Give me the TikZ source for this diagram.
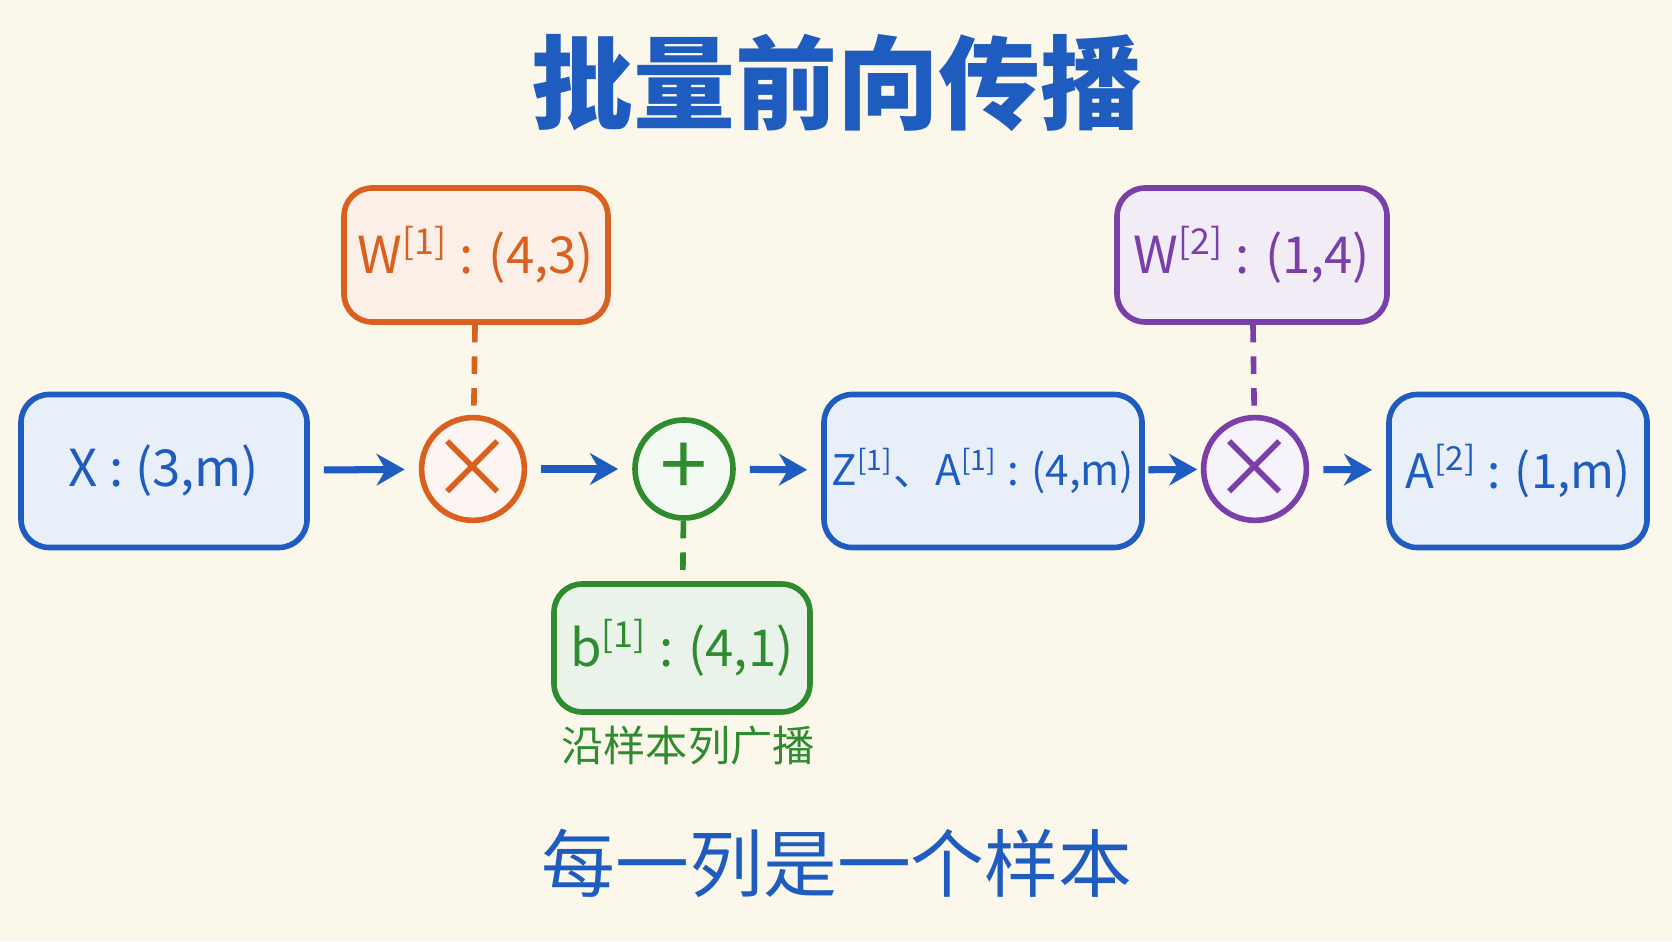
\documentclass[tikz,border=0pt]{standalone}
\usepackage{fontspec}
\setmainfont{Noto Sans CJK SC}
\usetikzlibrary{arrows.meta}
\definecolor{paper}{HTML}{FBF7EA}
\definecolor{myblue}{HTML}{1F5CC0}
\definecolor{myorange}{HTML}{D9601E}
\definecolor{mygreen}{HTML}{2E8B2E}
\definecolor{mypurple}{HTML}{7A3FA8}
\newcommand{\lay}[1]{\textsuperscript{[#1]}}
\tikzset{
  box/.style={draw=#1, line width=1.6pt, rounded corners=8pt, fill=#1!10, text=#1, inner sep=2pt, font=\fontsize{14.5}{18}\selectfont},
  op/.style={draw=#1, line width=1.6pt, circle, inner sep=0pt, minimum size=0.98cm, fill=#1!6, text=#1, font=\fontsize{24}{26}\selectfont},
  flow/.style={-{Stealth[length=8pt,width=9pt]}, draw=myblue, line width=2pt, shorten <=4pt, shorten >=4pt},
  tie/.style={dashed, dash pattern=on 5pt off 4pt, line width=1.6pt, draw=#1}
}
\begin{document}
\begin{tikzpicture}
                \fill[paper] (0,0) rectangle (16.72,9.41);
                \useasboundingbox (0,0) rectangle (16.72,9.41);

                \node[text=myblue, font=\fontsize{29}{36}\selectfont\bfseries] (title) at (8.37,8.58) {批量前向传播};

                \node[box=myblue, minimum width=2.86cm, minimum height=1.53cm] (x) at (1.64,4.70) {X : (3,m)};
                \node[op=myorange] (mul1) at (4.73,4.72) {×};
                \node[box=myorange, minimum width=2.64cm, minimum height=1.34cm] (w1) at (4.76,6.86) {W\lay{1} : (4,3)};
                \node[op=mygreen] (add) at (6.84,4.72) {+};
                \node[box=mygreen, minimum width=2.56cm, minimum height=1.28cm] (b1) at (6.82,2.93) {b\lay{1} : (4,1)};
                \node[text=mygreen, font=\fontsize{12}{14}\selectfont] (bcast) at (6.88,1.95) {沿样本列广播};
                \node[box=myblue, minimum width=3.18cm, minimum height=1.53cm, font=\fontsize{12}{16}\selectfont] (za) at (9.83,4.70) {Z\lay{1}、A\lay{1} : (4,m)};
                \node[op=mypurple] (mul2) at (12.55,4.72) {×};
                \node[box=mypurple, minimum width=2.70cm, minimum height=1.34cm] (w2) at (12.52,6.86) {W\lay{2} : (1,4)};
                \node[box=myblue, minimum width=2.58cm, minimum height=1.53cm, font=\fontsize{13.5}{18}\selectfont] (a2) at (15.18,4.70) {A\lay{2} : (1,m)};

                \node[text=myblue, font=\fontsize{21}{26}\selectfont] (note) at (8.37,0.78) {每一列是一个样本};

                \draw[flow] (x) -- (mul1);
                \draw[flow] (mul1) -- (add);
                \draw[flow] (add) -- (za);
                \draw[flow, shorten <=1pt, shorten >=1pt] (za) -- (mul2);
                \draw[flow] (mul2) -- (a2);

                \draw[tie=myorange] (w1) -- (mul1);
                \draw[tie=mygreen] (add) -- (b1);
                \draw[tie=mypurple] (w2) -- (mul2);
            \end{tikzpicture}
\end{document}
